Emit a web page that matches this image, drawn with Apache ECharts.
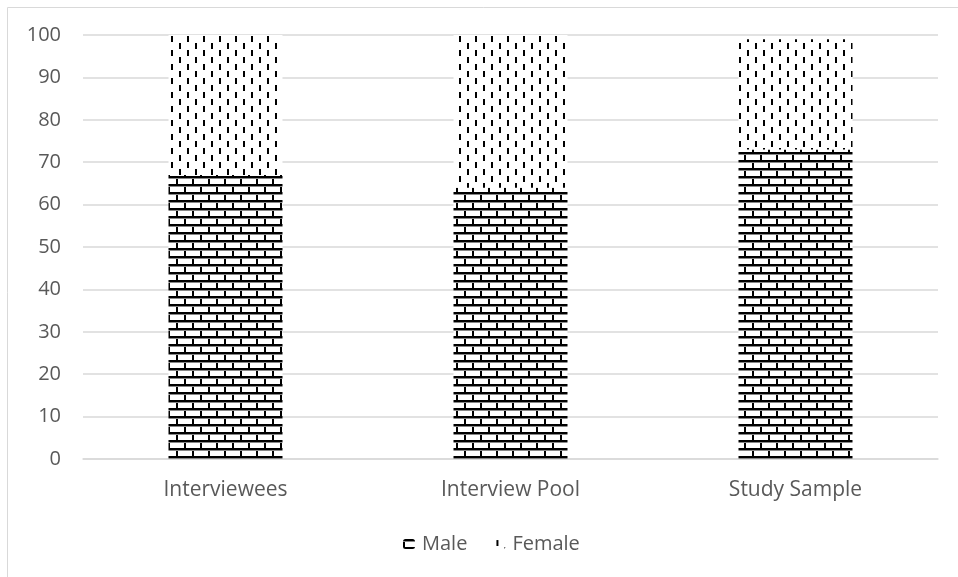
<!DOCTYPE html>
<html>
<head>
<meta charset="utf-8">
<script src="https://cdn.jsdelivr.net/npm/echarts@6/dist/echarts.min.js"></script>
<style>
  html, body { margin: 0; padding: 0; background: #fff; }
  #chart { width: 958px; height: 577px; }
</style>
</head>
<body>
<div id="chart"></div>
<script>
const categories = ['Interviewees', 'Interview Pool', 'Study Sample'];
const maleValues = [67, 64, 73];
const femaleValues = [33, 36, 26];
const yTicks = [0, 10, 20, 30, 40, 50, 60, 70, 80, 90, 100];

// brick pattern for Male
function brickPattern() {
  const c = document.createElement('canvas');
  c.width = 16; c.height = 16;
  const ctx = c.getContext('2d');
  ctx.fillStyle = '#fff';
  ctx.fillRect(0, 0, 16, 16);
  ctx.fillStyle = '#000';
  ctx.fillRect(0, 0, 16, 2);
  ctx.fillRect(0, 8, 16, 2);
  ctx.fillRect(0, 0, 2, 8);
  ctx.fillRect(8, 8, 2, 8);
  ctx.fillStyle = '#888';
  ctx.fillRect(0, 2, 16, 1);
  ctx.fillRect(0, 10, 16, 1);
  return c;
}

// short vertical dashes for Female
function dashPattern() {
  const c = document.createElement('canvas');
  c.width = 16; c.height = 14;
  const ctx = c.getContext('2d');
  ctx.fillStyle = '#fff';
  ctx.fillRect(0, 0, 16, 14);
  ctx.fillStyle = '#000';
  ctx.fillRect(3, 1, 2, 6);
  ctx.fillRect(11, 8, 2, 6);
  return c;
}

const chart = echarts.init(document.getElementById('chart'));
const textColor = '#595959';
const font = '"Open Sans", sans-serif';

chart.setOption({
  animation: false,
  textStyle: { fontFamily: font },
  graphic: [{
    type: 'rect',
    shape: { x: 7.5, y: 7.5, width: 960, height: 580 },
    style: { fill: 'none', stroke: '#d9d9d9', lineWidth: 1 },
    silent: true
  }],
  grid: { left: 83, right: 20, top: 35, bottom: 118 },
  legend: {
    bottom: 18,
    left: 398,
    itemWidth: 12,
    itemHeight: 10,
    itemGap: 26,
    textStyle: { color: textColor, fontSize: 20, fontFamily: font, padding: [0, 0, 0, 2] },
    data: ['Male', 'Female']
  },
  xAxis: {
    type: 'category',
    data: categories,
    axisLine: { lineStyle: { color: '#d9d9d9', width: 1.5 } },
    axisTick: { show: false },
    axisLabel: { color: textColor, fontSize: 21, margin: 21 }
  },
  yAxis: {
    type: 'value',
    min: yTicks[0],
    max: yTicks[yTicks.length - 1],
    interval: 10,
    axisLine: { show: false },
    axisTick: { show: false },
    splitLine: { lineStyle: { color: '#d9d9d9', width: 1.5 } },
    axisLabel: { color: textColor, fontSize: 20, margin: 22 }
  },
  series: [
    {
      name: 'Male',
      type: 'bar',
      stack: 'total',
      barWidth: '40%',
      data: maleValues,
      itemStyle: { color: { image: brickPattern(), repeat: 'repeat' } }
    },
    {
      name: 'Female',
      type: 'bar',
      stack: 'total',
      barWidth: '40%',
      data: femaleValues,
      itemStyle: { color: { image: dashPattern(), repeat: 'repeat' } }
    }
  ]
});
</script>
</body>
</html>
